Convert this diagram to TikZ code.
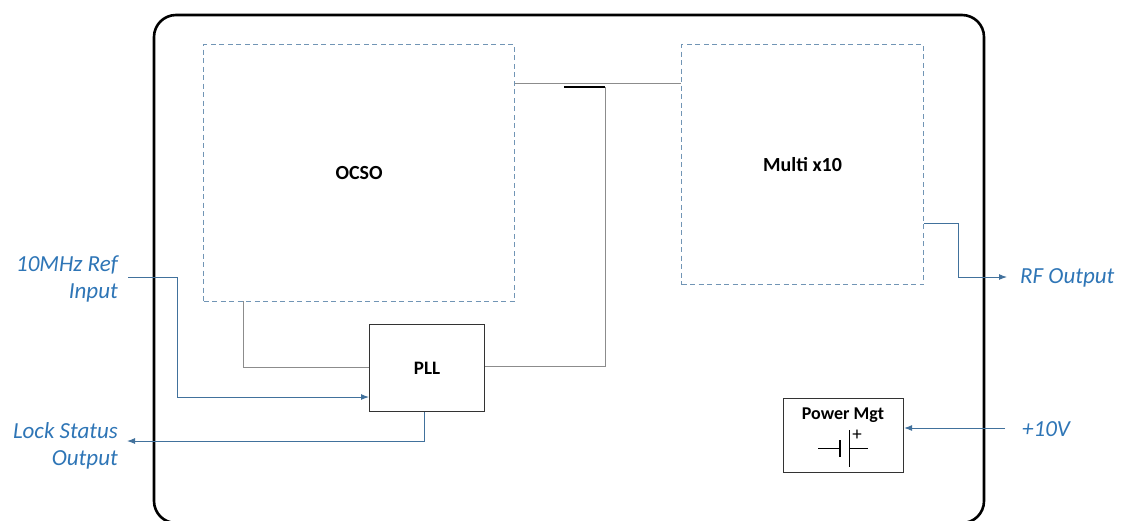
\documentclass[tikz,border=0pt]{standalone}
\usepackage{fontspec}
\setmainfont{Carlito}
\usetikzlibrary{positioning,arrows.meta}
\definecolor{lblblue}{HTML}{2E75B6}
\definecolor{wireblue}{HTML}{41719C}

\begin{document}
\begin{tikzpicture}[x=1pt,y=-1pt,
  frm/.style={draw=black,line width=2.6pt,rounded corners=22pt},
  sub/.style={draw=wireblue!75,dash pattern=on 5pt off 3.5pt,line width=1.2pt,inner sep=0pt,font=\bfseries\fontsize{20}{24}\selectfont},
  blk/.style={draw=black!80,line width=1.1pt,inner sep=0pt,font=\bfseries\fontsize{19}{22}\selectfont},
  lbl/.style={text=lblblue,font=\itshape\fontsize{23}{27}\selectfont,align=right,inner sep=0pt},
  wire/.style={draw=black!45,line width=1pt},
  sig/.style={draw=wireblue,line width=1pt,-{Latex[length=8pt,width=6pt]}}]

\useasboundingbox (0,0) rectangle (1124,520);
\draw[frm] (154,15) rectangle (984,523);

% blocks
\node[sub] (ocso)  [anchor=north west,minimum width=311pt,minimum height=257pt] at (203,44)  {OCSO};
\node[sub] (multi) [anchor=north west,minimum width=242pt,minimum height=240pt] at (681,44)  {Multi x10};
\node[blk] (pll)   [anchor=north west,minimum width=115pt,minimum height=87pt]  at (369,324) {PLL};
\node[blk] (pwr)   [anchor=north west,minimum width=120pt,minimum height=74pt]  at (783,398) {};
\node[font=\bfseries\fontsize{18}{21}\selectfont] (pwrt) at (843,415) {Power Mgt};

% battery symbol
\draw[line width=1pt] (818,448) -- (840,448);
\draw[line width=2.6pt] (840,440) -- (840,457);
\draw[line width=0.7pt] (849,430) -- (849,467);
\draw[line width=0.7pt] (849,448) -- (868,448);
\node[font=\fontsize{19}{20}\selectfont,inner sep=0pt] (plus) at (857,435) {+};

% outside labels
\node[lbl,anchor=east] (refin)  at (118,279) {10MHz Ref\\Input};
\node[lbl,anchor=east] (lock)   at (118,446) {Lock Status\\Output};
\node[lbl,anchor=west] (rfout)  at (1020,278) {RF Output};
\node[lbl,anchor=west] (vin)    at (1022,429) {+10V};

\coordinate (refend)  at (128,277);
\coordinate (lockend) at (127,441);
\coordinate (rfend)   at (1007,277);
\coordinate (vend)    at (1005,428);
\coordinate (tap)     at (564,87);

% internal wiring
\draw[wire] (ocso.east |- 0,83) -- (multi.west |- 0,83);
\draw[line width=1.1pt,black] (tap) -- (605,87);
\draw[wire] (605,87) -- (605,366) -- (pll.east |- 0,366);
\draw[wire] (243,301) -- (243,367) -- (pll.west |- 0,367);

% signals
\draw[sig] (refend) -- (177,277) -- (177,397) -- (pll.west |- 0,397);
\draw[sig] (pll.south -| 424,0) -- (424,441) -- (lockend);
\draw[sig] (multi.east |- 0,223) -- (958,223) -- (958,277) -- (rfend);
\draw[sig] (vend) -- (pwr.east |- 0,428);

\end{tikzpicture}
\end{document}
